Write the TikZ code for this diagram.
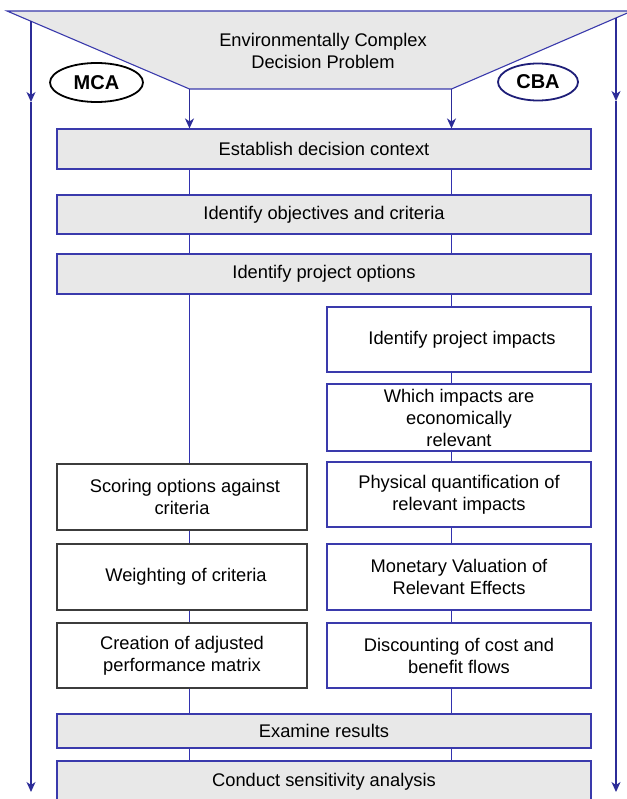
\documentclass[tikz,border=0pt]{standalone}
\usepackage{fontspec}
\setmainfont{Liberation Sans}
\usetikzlibrary{arrows.meta,shapes.geometric}
\definecolor{lineblue}{RGB}{58,58,172}
\definecolor{connblue}{RGB}{50,50,175}
\definecolor{arrblue}{RGB}{44,44,152}
\definecolor{ellblue}{RGB}{30,30,120}
\definecolor{boxgrey}{RGB}{232,232,232}
\definecolor{darkedge}{RGB}{60,60,60}
\newcommand\bsz{\fontsize{18.3}{22}\selectfont}
\tikzset{
  x=1pt, y=-1pt,
  base/.style={inner sep=0pt, line width=1.1pt, font=\bsz, align=center, text=black},
  widebox/.style={base, draw=lineblue, fill=boxgrey, minimum width=534pt},
  rbox/.style={base, draw=lineblue, fill=white, minimum width=264pt, minimum height=65pt},
  lbox/.style={base, draw=darkedge, fill=white, minimum width=250pt, minimum height=65pt},
  conn/.style={draw=connblue, line width=1.4pt},
  arr/.style={draw=arrblue, line width=1.3pt, -{Stealth[length=10pt,width=9pt,inset=3pt]}},
  ell/.style={ellipse, draw, line width=1.8pt, inner sep=0pt, font=\fontsize{20}{24}\selectfont\bfseries}
}
\begin{document}
\begin{tikzpicture}
\useasboundingbox (0,0) rectangle (626,799);
% top trapezoid
\path[fill=boxgrey, draw=lineblue, line width=1.1pt] (7,11) -- (632,11) -- (451.5,89) -- (189.5,89) -- cycle;
\node[base, font=\bsz] (prob) at (323,51) {Environmentally Complex\\Decision Problem};
\coordinate (tl) at (189.5,89);
\coordinate (tr) at (451.5,89);
% ellipses
\node[ell, draw=black, minimum width=93pt, minimum height=39pt] (mca) at (96.5,82.5) {MCA};
\node[ell, draw=ellblue, minimum width=80pt, minimum height=37pt] (cba) at (538,82) {CBA};
% outer arrows
\coordinate (oL1) at (31,21);
\coordinate (oLm) at (31,102);
\coordinate (oL2) at (31,792);
\coordinate (oR1) at (616,18);
\coordinate (oRm) at (616,101);
\coordinate (oR2) at (616,792);
\draw[arr] (oL1) -- (oLm);
\draw[arr] (oLm) -- (oL2);
\draw[arr] (oR1) -- (oRm);
\draw[arr] (oRm) -- (oR2);
% boxes
\node[widebox, minimum height=40pt] (est) at (324,149) {Establish decision context};
\node[widebox, minimum height=39pt] (obj) at (324,214.5) {Identify objectives and criteria};
\node[widebox, minimum height=40pt] (opt) at (324,274) {Identify project options};
\node[rbox] (imp) at (459,339.5) {\hspace*{6pt}Identify project impacts};
\node[rbox, minimum height=67pt] (which) at (459,417.5) {Which impacts are\\economically\\relevant};
\node[rbox] (phys) at (459,494.5) {Physical quantification of\\relevant impacts};
\node[rbox, minimum height=66pt] (mon) at (459,577) {Monetary Valuation of\\Relevant Effects};
\node[rbox] (disc) at (459,655.5) {Discounting of cost and\\benefit flows};
\node[lbox, minimum height=66pt] (score) at (182,497) {\hspace*{6pt}Scoring options against\\criteria};
\node[lbox, minimum height=66pt] (weight) at (182,577) {\hspace*{8pt}Weighting of criteria};
\node[lbox] (create) at (182,655.5) {Creation of adjusted\\performance matrix};
\node[widebox, minimum height=34pt] (exam) at (324,731) {Examine results};
\node[widebox, minimum height=42pt] (cond) at (324,782) {Conduct sensitivity analysis};
% arrows from problem
\draw[arr] (tl) -- (est.north -| tl);
\draw[arr] (tr) -- (est.north -| tr);
% left spine
\draw[conn] (est.south -| tl) -- (obj.north -| tl);
\draw[conn] (obj.south -| tl) -- (opt.north -| tl);
\draw[conn] (opt.south -| tl) -- (score.north -| tl);
\draw[conn] (score.south -| tl) -- (weight.north -| tl);
\draw[conn] (weight.south -| tl) -- (create.north -| tl);
\draw[conn] (create.south -| tl) -- (exam.north -| tl);
\draw[conn] (exam.south -| tl) -- (cond.north -| tl);
% right spine
\draw[conn] (est.south -| tr) -- (obj.north -| tr);
\draw[conn] (obj.south -| tr) -- (opt.north -| tr);
\draw[conn] (opt.south -| tr) -- (imp.north -| tr);
\draw[conn] (imp.south -| tr) -- (which.north -| tr);
\draw[conn] (which.south -| tr) -- (phys.north -| tr);
\draw[conn] (phys.south -| tr) -- (mon.north -| tr);
\draw[conn] (mon.south -| tr) -- (disc.north -| tr);
\draw[conn] (disc.south -| tr) -- (exam.north -| tr);
\draw[conn] (exam.south -| tr) -- (cond.north -| tr);
\end{tikzpicture}
\end{document}
